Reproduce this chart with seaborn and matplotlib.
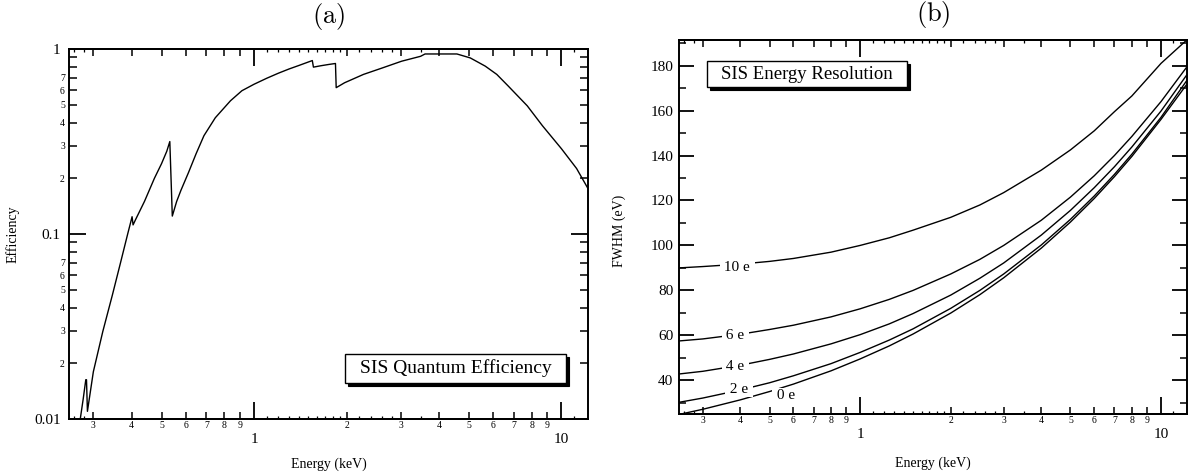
import numpy as np
import pandas as pd
import matplotlib
matplotlib.use("Agg")
import matplotlib.pyplot as plt
from matplotlib.patches import Rectangle
from matplotlib.ticker import FixedLocator, FuncFormatter, NullLocator, NullFormatter
from matplotlib.transforms import offset_copy
import seaborn as sns

# ---- SIS quantum efficiency (energy in keV) ----
qe_energy_kev = [0.272, 0.278, 0.2835, 0.2850, 0.2870, 0.300, 0.322, 0.346, 0.367,
                 0.388, 0.398, 0.401, 0.404, 0.412, 0.440, 0.474, 0.500, 0.520,
                 0.532, 0.542, 0.560, 0.578, 0.612, 0.648, 0.687, 0.748, 0.838,
                 0.913, 1.000, 1.100, 1.200, 1.300, 1.400, 1.500, 1.547, 1.560,
                 1.650, 1.750, 1.840, 1.850, 1.970, 2.270, 2.620, 3.020, 3.480,
                 3.600, 4.570, 5.050, 5.650, 6.160, 6.710, 7.740, 8.670, 10.00,
                 11.20, 12.20]
qe_efficiency = [0.0100, 0.0128, 0.0163, 0.0163, 0.0110, 0.0180, 0.0297, 0.0468, 0.069,
                 0.100, 0.118, 0.124, 0.112, 0.120, 0.150, 0.200, 0.240, 0.280,
                 0.316, 0.125, 0.150, 0.172, 0.215, 0.272, 0.340, 0.425, 0.525,
                 0.595, 0.645, 0.695, 0.740, 0.780, 0.815, 0.850, 0.866, 0.798,
                 0.812, 0.825, 0.835, 0.618, 0.657, 0.729, 0.791, 0.859, 0.913,
                 0.940, 0.940, 0.895, 0.808, 0.729, 0.631, 0.493, 0.385, 0.289,
                 0.226, 0.176]

# ---- SIS energy resolution for several read-noise levels ----
res_energy_kev = [0.25, 0.3, 0.4, 0.5, 0.6, 0.8, 1.0, 1.25, 1.5, 2.0,
                  2.5, 3.0, 4.0, 5.0, 6.0, 7.0, 8.0, 10.0, 12.2]
fwhm_10e = [90.0, 90.6, 91.7, 92.9, 94.2, 97.0, 100.0, 103.4, 106.8, 112.5,
            118.0, 123.5, 133.5, 142.5, 151.0, 159.5, 166.5, 181.0, 191.5]
fwhm_6e = [57.5, 58.4, 60.5, 62.6, 64.5, 68.2, 71.8, 76.0, 80.0, 87.3,
           93.8, 100.0, 111.2, 121.5, 131.0, 140.0, 148.5, 164.0, 179.5]
fwhm_4e = [42.8, 44.0, 46.7, 49.3, 51.7, 56.2, 60.3, 65.1, 69.7, 77.9,
           85.4, 92.2, 104.6, 115.6, 125.7, 135.0, 143.8, 159.8, 176.0]
fwhm_2e = [30.2, 32.1, 35.7, 38.9, 42.0, 47.4, 52.4, 57.9, 62.9, 72.0,
           80.0, 87.3, 100.2, 111.6, 122.0, 131.6, 140.6, 157.0, 173.5]
fwhm_0e = [24.8, 27.1, 31.3, 35.0, 38.3, 44.2, 49.5, 55.3, 60.6, 69.9,
           78.1, 85.6, 98.8, 110.4, 120.9, 130.6, 139.6, 156.1, 171.8]
noise_labels = ["10 e", "6 e", "4 e", "2 e", "0 e"]

# axis tick values
decade_ticks = [1, 10]
digit_ticks = [0.3, 0.4, 0.5, 0.6, 0.7, 0.8, 0.9, 2, 3, 4, 5, 6, 7, 8, 9]
fine_ticks = [0.26, 0.28, 1.1, 1.2, 1.3, 1.4, 1.5, 1.6, 1.7, 1.8, 1.9,
              2.2, 2.4, 2.6, 2.8, 3.5, 11]
eff_major = [0.01, 0.1, 1]
eff_minor = [0.02, 0.03, 0.04, 0.05, 0.06, 0.07, 0.08, 0.09,
             0.2, 0.3, 0.4, 0.5, 0.6, 0.7, 0.8, 0.9]
fwhm_major = [40, 60, 80, 100, 120, 140, 160, 180]
fwhm_minor = [30, 50, 70, 90, 110, 130, 150, 170, 190]

sns.set_theme(style="ticks")
plt.rcParams.update({
    "font.family": ["Liberation Serif", "DejaVu Serif"],
    "mathtext.fontset": "cm",
    "axes.linewidth": 1.4,
    "axes.edgecolor": "black",
    "xtick.color": "black",
    "ytick.color": "black",
    "xtick.direction": "in",
    "ytick.direction": "in",
    "text.color": "black",
    "axes.labelcolor": "black",
})

fig = plt.figure(figsize=(11.92, 4.75), dpi=100)
W, H = 1192, 475
ax_a = fig.add_axes([69 / W, 1 - 419 / H, (588 - 69) / W, (419 - 49) / H])
ax_b = fig.add_axes([679 / W, 1 - 414 / H, (1187 - 679) / W, (414 - 40) / H])


def digit_label(v, pos=None):
    return str(int(round(v * 10))) if v < 1 else str(int(round(v)))


def energy_axis(ax):
    ax.set_xscale("log")
    ax.set_xlim(0.25, 12.2)
    ax.xaxis.set_major_locator(FixedLocator(decade_ticks))
    ax.xaxis.set_major_formatter(FuncFormatter(lambda v, p: f"{v:g}"))
    ax.xaxis.set_minor_locator(FixedLocator(digit_ticks))
    ax.xaxis.set_minor_formatter(FuncFormatter(digit_label))
    ax.tick_params(axis="x", which="major", length=12, width=1.3, labelsize=11,
                   pad=10, top=True, direction="in")
    ax.tick_params(axis="x", which="minor", length=5, width=1.1, labelsize=7,
                   pad=1.5, top=True, direction="in")
    for loc in ("bottom", "top"):
        sec = ax.secondary_xaxis(loc)
        sec.xaxis.set_major_locator(FixedLocator(fine_ticks))
        sec.xaxis.set_minor_locator(NullLocator())
        sec.xaxis.set_major_formatter(NullFormatter())
        sec.tick_params(which="major", length=2.5, width=0.9, direction="in")
    ax.set_xlabel("Energy (keV)", fontsize=10)


def caption_box(ax, text, x0, y0, x1, y1, fontsize):
    shadow_tf = offset_copy(ax.transAxes, fig=fig, x=3, y=-3, units="dots")
    ax.add_patch(Rectangle((x0, y0), x1 - x0, y1 - y0, transform=shadow_tf,
                           facecolor="black", edgecolor="black", lw=0.8, zorder=5))
    ax.add_patch(Rectangle((x0, y0), x1 - x0, y1 - y0, transform=ax.transAxes,
                           facecolor="white", edgecolor="black", lw=1.0, zorder=6))
    ax.text((x0 + x1) / 2, (y0 + y1) / 2, text, transform=ax.transAxes,
            ha="center", va="center", fontsize=fontsize, zorder=7)


# ---- panel (a): quantum efficiency ----
sns.lineplot(x=qe_energy_kev, y=qe_efficiency, ax=ax_a, color="black",
             linewidth=1.0, estimator=None, sort=False)
energy_axis(ax_a)
ax_a.set_yscale("log")
ax_a.set_ylim(0.01, 1)
ax_a.yaxis.set_major_locator(FixedLocator(eff_major))
ax_a.yaxis.set_major_formatter(FuncFormatter(lambda v, p: f"{v:g}"))
ax_a.yaxis.set_minor_locator(FixedLocator(eff_minor))
ax_a.yaxis.set_minor_formatter(FuncFormatter(
    lambda v, p: "" if round(v / 10 ** np.floor(np.log10(v) + 1e-9)) > 7
    else str(int(round(v / 10 ** np.floor(np.log10(v) + 1e-9))))))
ax_a.tick_params(axis="y", which="major", length=12, width=1.3, labelsize=11,
                 pad=6, right=True, direction="in")
ax_a.tick_params(axis="y", which="minor", length=6, width=1.1, labelsize=7,
                 pad=3, right=True, direction="in")
ax_a.set_ylabel("Efficiency", fontsize=10)
ax_a.yaxis.set_label_coords(-0.095, 0.5)
ax_a.xaxis.set_label_coords(0.5, -0.105)
caption_box(ax_a, "SIS Quantum Efficiency", 0.532, 0.097, 0.958, 0.176, 14)
fig.text((69 + 588) / 2 / W, 1 - 17 / H, r"$\mathrm{(a)}$", ha="center",
         va="center", fontsize=19)

# ---- panel (b): energy resolution ----
res_df = pd.DataFrame({
    "energy": res_energy_kev * 5,
    "fwhm": fwhm_10e + fwhm_6e + fwhm_4e + fwhm_2e + fwhm_0e,
    "noise": np.repeat(noise_labels, len(res_energy_kev)),
})
sns.lineplot(data=res_df, x="energy", y="fwhm", hue="noise",
             palette=["black"] * len(noise_labels), legend=False,
             estimator=None, sort=False, linewidth=1.0, ax=ax_b)
energy_axis(ax_b)
ax_b.set_ylim(25, 191.4)
ax_b.yaxis.set_major_locator(FixedLocator(fwhm_major))
ax_b.yaxis.set_minor_locator(FixedLocator(fwhm_minor))
ax_b.tick_params(axis="y", which="major", length=11, width=1.3, labelsize=11,
                 pad=4, right=True, direction="in")
ax_b.tick_params(axis="y", which="minor", length=5, width=1.1, right=True,
                 direction="in")
ax_b.set_ylabel("FWHM (eV)", fontsize=10)
ax_b.yaxis.set_label_coords(-0.105, 0.49)
ax_b.xaxis.set_label_coords(0.5, -0.115)
caption_box(ax_b, "SIS Energy Resolution", 0.055, 0.874, 0.449, 0.944, 13.5)

label_pos = {"10 e": (0.39, 90.3), "6 e": (0.385, 59.8), "4 e": (0.385, 46.2),
             "2 e": (0.395, 35.9), "0 e": (0.565, 33.4)}
for name in noise_labels:
    ex, fy = label_pos[name]
    ax_b.text(ex, fy, f" {name} ", ha="center", va="center", fontsize=11,
              zorder=4, bbox=dict(boxstyle="square,pad=0.05", facecolor="white",
                                  edgecolor="none"))
fig.text((679 + 1187) / 2 / W, 1 - 14 / H, r"$\mathrm{(b)}$", ha="center",
         va="center", fontsize=19)

fig.savefig("out.png", dpi=100)
